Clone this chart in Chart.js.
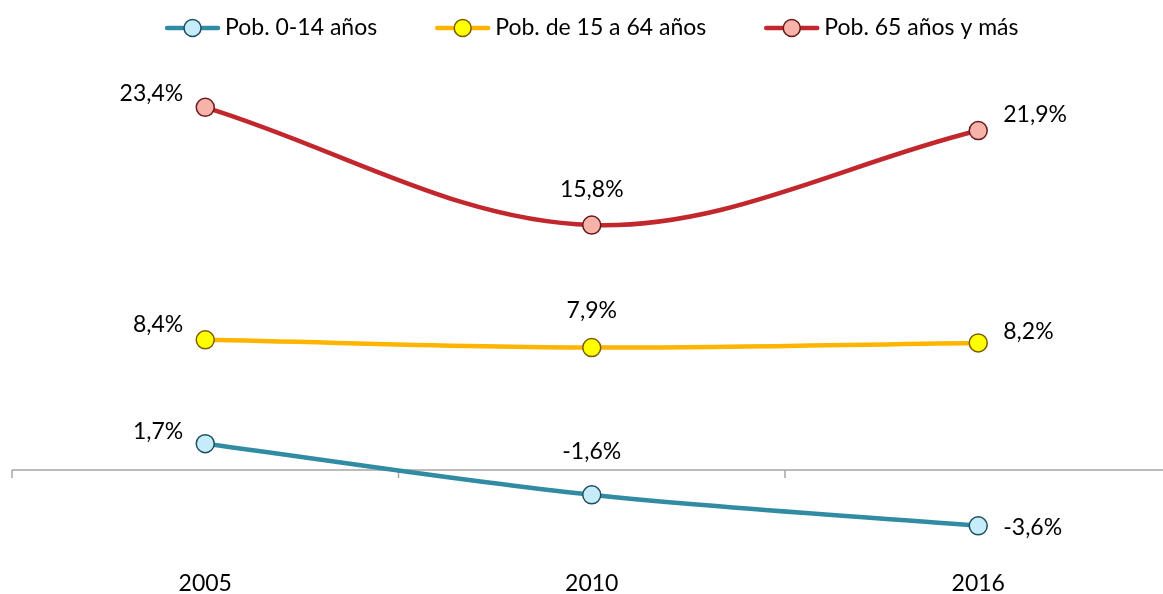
<!DOCTYPE html>
<html>
<head>
<meta charset="utf-8">
<script src="https://cdn.jsdelivr.net/npm/chart.js@4.4.1/dist/chart.umd.min.js"></script>
<style>
html, body { margin: 0; padding: 0; background: #fff; overflow: hidden; }
canvas { display: block; }
</style>
</head>
<body>
<canvas id="myChart" width="1182" height="594" style="width:1182px;height:594px"></canvas>
<script>
// data
const years = ['2005', '2010', '2016']
const series_names = ['Pob. 0-14 años', 'Pob. de 15 a 64 años', 'Pob. 65 años y más']
const data_0_14 = [1.7, -1.6, -3.6]
const data_15_64 = [8.4, 7.9, 8.2]
const data_65 = [23.4, 15.8, 21.9]

const FONT = 'Lato, "Open Sans", sans-serif'
const fmt = v => v.toFixed(1).replace('.', ',') + '%'

// label offsets (left / above / right), per dataset
const label_dy = [
    [-12, -43, 2],
    [-15, -37, -11],
    [-14, -36, -16]
]

const zeroAxis = {
    id: 'zeroAxis',
    beforeDatasetsDraw(chart) {
        const ctx = chart.ctx
        const x = chart.scales.x
        const y0 = chart.scales.y.getPixelForValue(0)
        const left = chart.chartArea.left
        const right = chart.chartArea.right
        ctx.save()
        ctx.strokeStyle = '#a6a6a6'
        ctx.lineWidth = 1.5
        ctx.beginPath()
        ctx.moveTo(left, y0)
        ctx.lineTo(right, y0)
        const step = (right - left) / years.length
        for (let i = 0; i <= years.length; i++) {
            const px = x.getPixelForValue(i) - step / 2
            ctx.moveTo(px, y0)
            ctx.lineTo(px, y0 + 8)
        }
        ctx.stroke()
        ctx.restore()
    }
}

const valueLabels = {
    id: 'valueLabels',
    afterDatasetsDraw(chart) {
        const ctx = chart.ctx
        ctx.save()
        ctx.font = '23px ' + FONT
        ctx.fillStyle = '#000'
        ctx.textBaseline = 'middle'
        chart.data.datasets.forEach((ds, di) => {
            const meta = chart.getDatasetMeta(di)
            meta.data.forEach((pt, i) => {
                const txt = fmt(ds.data[i])
                if (i === 0) {
                    ctx.textAlign = 'right'
                    ctx.fillText(txt, pt.x - 22, pt.y + label_dy[di][0])
                } else if (i === years.length - 1) {
                    ctx.textAlign = 'left'
                    ctx.fillText(txt, pt.x + 25, pt.y + label_dy[di][2])
                } else {
                    ctx.textAlign = 'center'
                    ctx.fillText(txt, pt.x, pt.y + label_dy[di][1])
                }
            })
        })
        ctx.restore()
    }
}

const topLegend = {
    id: 'topLegend',
    afterDraw(chart) {
        const ctx = chart.ctx
        const ds = chart.data.datasets
        ctx.save()
        ctx.font = '23px ' + FONT
        const symW = 55, gapText = 5, gapItem = 58
        const widths = ds.map(d => symW + gapText + ctx.measureText(d.label).width)
        const total = widths.reduce((a, b) => a + b, 0) + gapItem * (ds.length - 1)
        let x = (chart.chartArea.left + chart.chartArea.right) / 2 - total / 2
        const y = 28
        ds.forEach((d, i) => {
            ctx.strokeStyle = d.borderColor
            ctx.lineWidth = 4.5
            ctx.lineCap = 'round'
            ctx.beginPath()
            ctx.moveTo(x + 2, y)
            ctx.lineTo(x + symW - 2, y)
            ctx.stroke()
            ctx.beginPath()
            ctx.arc(x + symW / 2, y, 8.5, 0, Math.PI * 2)
            ctx.fillStyle = d.pointBackgroundColor
            ctx.fill()
            ctx.lineWidth = 1.5
            ctx.strokeStyle = d.pointBorderColor
            ctx.stroke()
            ctx.fillStyle = '#000'
            ctx.textAlign = 'left'
            ctx.textBaseline = 'middle'
            ctx.fillText(d.label, x + symW + gapText, y)
            x += widths[i] + gapItem
        })
        ctx.restore()
    }
}

const ctx = document.getElementById('myChart').getContext('2d')
const chart = new Chart(ctx, {
    type: 'line',
    data: {
        labels: years,
        datasets: [
            {
                label: series_names[0],
                data: data_0_14,
                borderColor: '#318ca3',
                pointBackgroundColor: '#c6ecfa',
                pointBorderColor: '#1d4f5e'
            },
            {
                label: series_names[1],
                data: data_15_64,
                borderColor: '#ffb500',
                pointBackgroundColor: '#ffff00',
                pointBorderColor: '#7a5c00'
            },
            {
                label: series_names[2],
                data: data_65,
                borderColor: '#c1272d',
                pointBackgroundColor: '#f7b3a9',
                pointBorderColor: '#661a1a'
            }
        ]
    },
    options: {
        responsive: false,
        animation: false,
        devicePixelRatio: 1,
        layout: { padding: { top: 67, left: 12, right: 4, bottom: 0 } },
        elements: {
            line: { borderWidth: 4.5, tension: 0.35, fill: false },
            point: { radius: 9, borderWidth: 1.5, hoverRadius: 9 }
        },
        plugins: {
            legend: { display: false },
            tooltip: { enabled: false }
        },
        scales: {
            x: {
                offset: true,
                grid: { display: false, drawTicks: false },
                border: { display: false },
                ticks: { color: '#000', font: { family: FONT, size: 23 }, padding: 7 },
                afterFit(scale) { scale.height = 31 }
            },
            y: {
                display: false,
                min: -6,
                max: 26
            }
        }
    },
    plugins: [zeroAxis, valueLabels, topLegend]
})
</script>
</body>
</html>
